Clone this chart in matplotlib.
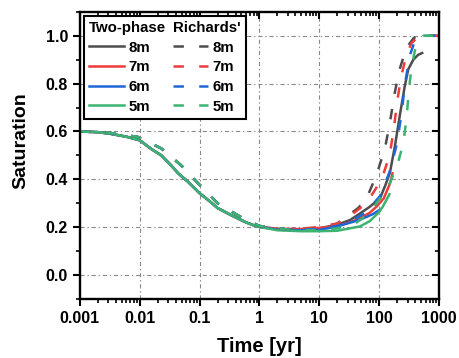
import matplotlib
matplotlib.use("Agg")
import matplotlib.pyplot as plt
from matplotlib.lines import Line2D
from matplotlib.ticker import LogLocator, MultipleLocator, NullFormatter, FixedLocator, FixedFormatter

plt.rcParams['font.family'] = ['Liberation Sans', 'DejaVu Sans']
plt.rcParams['font.weight'] = 'bold'
plt.rcParams['lines.scale_dashes'] = False

# ---------------- data ----------------
labels = ["8m", "7m", "6m", "5m"]
colors = ["#4d4d4d", "#ee3b3b", "#1f66d6", "#3cb371"]

t_early = [0.001, 0.002, 0.0033, 0.006, 0.01, 0.016, 0.023, 0.033, 0.044, 0.064,
           0.1, 0.15, 0.2, 0.37, 0.6, 0.9]
s_early = [0.600, 0.597, 0.590, 0.578, 0.563, 0.525, 0.500, 0.460, 0.425, 0.390,
           0.342, 0.307, 0.280, 0.245, 0.220, 0.203]

# Two-phase (solid)
tp_8m_t = t_early + [2, 5, 10, 20, 33, 50, 70, 104, 130, 153, 185, 224, 270, 309, 375, 450, 551]
tp_8m_s = s_early + [0.192, 0.190, 0.195, 0.210, 0.230, 0.260, 0.285, 0.320, 0.380, 0.430,
                     0.540, 0.670, 0.790, 0.860, 0.900, 0.920, 0.930]
tp_7m_t = t_early + [2, 5, 10, 20, 33, 50, 70, 91, 120, 153, 170]
tp_7m_s = s_early + [0.193, 0.192, 0.197, 0.205, 0.220, 0.240, 0.260, 0.286, 0.320, 0.383, 0.430]
tp_6m_t = t_early + [2, 5, 10, 22, 48, 80, 104]
tp_6m_s = s_early + [0.190, 0.187, 0.188, 0.206, 0.231, 0.255, 0.273]
tp_5m_t = t_early + [2, 5, 10, 20, 48, 70, 100, 116, 153]
tp_5m_s = s_early + [0.187, 0.183, 0.183, 0.185, 0.203, 0.225, 0.262, 0.286, 0.342]

# Richards' (dashed)
r_early_t = [0.001, 0.003, 0.0093, 0.023, 0.049, 0.095, 0.2, 0.47, 1, 3]
r_early_s = [0.600, 0.595, 0.577, 0.529, 0.459, 0.383, 0.300, 0.245, 0.205, 0.190]

ri_8m_t = r_early_t + [10, 20, 29, 45, 62, 91, 126, 153, 180, 215, 288, 380, 450, 1000]
ri_8m_s = r_early_s + [0.198, 0.215, 0.245, 0.280, 0.320, 0.418, 0.530, 0.640, 0.750, 0.850,
                       0.950, 0.990, 1.000, 1.000]
ri_7m_t = r_early_t + [10, 20, 30, 62, 111, 150, 175, 200, 235, 288, 350, 450, 550, 1000]
ri_7m_s = r_early_s + [0.200, 0.215, 0.240, 0.300, 0.400, 0.500, 0.600, 0.720, 0.830, 0.920,
                       0.970, 0.995, 1.000, 1.000]
ri_6m_t = r_early_t + [10, 20, 30, 60, 104, 150, 200, 240, 272, 330, 400, 500, 1000]
ri_6m_s = r_early_s + [0.192, 0.205, 0.220, 0.260, 0.330, 0.430, 0.550, 0.680, 0.800, 0.920,
                       0.980, 1.000, 1.000]
ri_5m_t = r_early_t + [10, 20, 40, 70, 143, 198, 255, 290, 315, 351, 400, 454, 550, 1000]
ri_5m_s = r_early_s + [0.187, 0.195, 0.215, 0.260, 0.370, 0.450, 0.550, 0.660, 0.770, 0.870,
                       0.940, 0.975, 1.000, 1.000]

x_ticks = [0.001, 0.01, 0.1, 1, 10, 100, 1000]
x_ticklabels = ["0.001", "0.01", "0.1", "1", "10", "100", "1000"]
y_ticks = [0.0, 0.2, 0.4, 0.6, 0.8, 1.0]
y_ticklabels = ["0.0", "0.2", "0.4", "0.6", "0.8", "1.0"]

two_phase = [(tp_8m_t, tp_8m_s), (tp_7m_t, tp_7m_s), (tp_6m_t, tp_6m_s), (tp_5m_t, tp_5m_s)]
richards = [(ri_8m_t, ri_8m_s), (ri_7m_t, ri_7m_s), (ri_6m_t, ri_6m_s), (ri_5m_t, ri_5m_s)]

# ---------------- figure ----------------
fig = plt.figure(figsize=(4.59, 3.58), dpi=100)
ax = fig.add_axes([0.174, 0.165, 0.782, 0.802])

LW = 1.8
DASH = (0, (7.5, 11.0))
for (t, s), c in zip(two_phase, colors):
    ax.plot(t, s, color=c, lw=LW, solid_capstyle='butt')
for (t, s), c in zip(richards, colors):
    ax.plot(t, s, color=c, lw=LW, linestyle=DASH, dash_capstyle='butt')

ax.set_xscale('log')
ax.set_xlim(0.001, 1000)
ax.set_ylim(-0.1, 1.1)
ax.xaxis.set_major_locator(FixedLocator(x_ticks))
ax.xaxis.set_major_formatter(FixedFormatter(x_ticklabels))
ax.xaxis.set_minor_locator(LogLocator(base=10, subs=range(2, 10), numticks=20))
ax.xaxis.set_minor_formatter(NullFormatter())
ax.yaxis.set_major_locator(FixedLocator(y_ticks))
ax.yaxis.set_major_formatter(FixedFormatter(y_ticklabels))
ax.yaxis.set_minor_locator(MultipleLocator(0.1))

ax.grid(True, which='major', color='#8a8a8a', lw=0.8, linestyle=(0, (3, 2, 1, 2)))
ax.set_axisbelow(True)

for sp in ax.spines.values():
    sp.set_linewidth(1.7)

ax.tick_params(axis='both', which='major', labelsize=11.5, width=1.5, length=5)
ax.tick_params(axis='both', which='minor', width=1.2, length=3)
ax.tick_params(axis='x', which='both', direction='out', top=True)
ax.tick_params(axis='y', which='both', direction='out', right=True)
# top and right ticks point inward
for tk in ax.xaxis.get_major_ticks() + ax.xaxis.get_minor_ticks():
    tk.tick2line.set_marker(3)  # TICKDOWN
for tk in ax.yaxis.get_major_ticks() + ax.yaxis.get_minor_ticks():
    tk.tick2line.set_marker(0)  # TICKLEFT

ax.set_xlabel("Time [yr]", fontsize=14.5, fontweight='bold', labelpad=8)
ax.set_ylabel("Saturation", fontsize=14, fontweight='bold')
ax.yaxis.set_label_coords(-0.14, 0.55)

# legend: header row + 4 rows, 2 columns
blank = Line2D([], [], color='none')
handles = [blank] + [Line2D([], [], color=c, lw=LW) for c in colors] + \
          [blank] + [Line2D([], [], color=c, lw=LW, linestyle=DASH) for c in colors]
leg_labels = ["Two-phase"] + labels + ["Richards'"] + labels
leg = ax.legend(handles, leg_labels, ncol=2, loc='upper left', fancybox=False,
                frameon=True, edgecolor='black', framealpha=1, fontsize=10.8,
                handlelength=2.35, handletextpad=0.3, columnspacing=0.45,
                labelspacing=0.38, borderaxespad=0.25, borderpad=0.35)
leg.get_frame().set_linewidth(1.5)
for txt in leg.get_texts():
    txt.set_fontweight('bold')
# remove handle space for header entries
for col in leg._legend_handle_box.get_children():
    hp = col.get_children()[0]
    hp.get_children()[0].width = 0
    hp.sep = 0

fig.savefig("out.png", dpi=100)
